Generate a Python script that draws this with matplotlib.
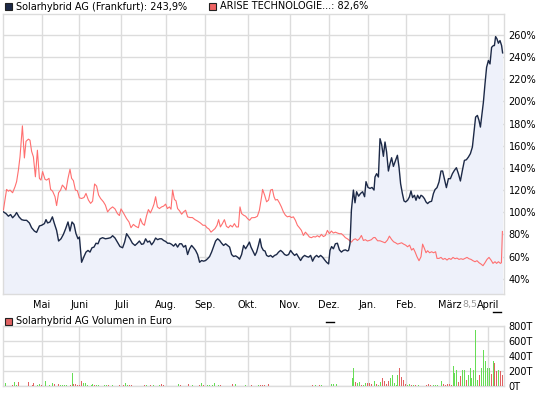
import matplotlib
matplotlib.use("Agg")
import matplotlib.pyplot as plt
from matplotlib.patches import Rectangle
from matplotlib.lines import Line2D

# ---------------- data ----------------
months = ["Mai", "Juni", "Juli", "Aug.", "Sep.", "Okt.", "Nov.", "Dez.",
          "Jan.", "Feb.", "März", "April"]
month_start = [20.85, 39.65, 60.65, 82.85, 102.65, 123.85, 144.85, 164.5,
               183.85, 203.0, 224.65, 243.85]
pct_ticks = [40, 60, 80, 100, 120, 140, 160, 180, 200, 220, 240, 260]
vol_ticks = [0, 200, 400, 600, 800]

solar_day = [1.7, 3, 4.2, 5.3, 6.3, 7.5, 8.3, 9.5, 10.8, 12, 13.3, 14.7, 15.8, 17.2, 18.3,
             19.7, 20.8, 22.2, 23, 23.8, 25, 26.2, 27.2, 28.3, 29.3, 30.5, 31.7, 32.8, 34,
             35, 36, 37, 38, 39, 39.7, 40.8, 42, 43, 44, 45, 46, 47, 48, 49, 50, 51.3, 52.7,
             54, 55.3, 56.3, 57.5, 58.7, 60, 61.3, 62.3, 63.3,
             65, 66.2, 67.5, 68.7, 69.7, 70.8, 71.8, 72.8, 73.8, 74.8, 75.8, 76.8, 77.8,
             78.8, 79.8, 80.8, 81.8, 82.8, 83.8, 84.8, 85.8, 86.8, 87.8, 88.8, 89.8, 90.8,
             91.8, 92.8, 93.8, 94.8, 95.8, 96.8, 97.8, 98.8, 99.8, 100.8, 101.8, 102.8,
             103.8, 104.8, 105.8, 106.8, 107.8, 108.8, 109.8, 110.8, 111.8, 112.8, 113.8,
             114.8, 115.8, 116.8, 117.8, 118.8, 119.8, 120.8, 121.8, 122.8, 123.8, 124.7,
             125.5,
             127.5, 128.3, 129.2, 130, 130.8, 131.7, 132.5, 133.3, 134.3, 135.3, 136.3,
             137.3, 138.3, 139.3, 140.3, 141.3, 142.3, 143.3, 144.3, 145.3, 146.3, 147.3,
             148.3, 149.3, 150.3, 151.3, 152.3, 153.3, 154.3, 155.3, 156.3, 157.3, 158.3,
             159.3, 160.3, 161.3, 162.3, 163.3, 164.3, 165, 165.8, 166.7, 167.7, 168.7,
             169.7, 170.7, 171.7, 172.7, 173.7, 174.3, 175, 175.7, 176.7, 177.5, 178.3,
             179.3, 180.3, 181.3, 182.3, 183, 184, 185, 186, 187,
             187.5, 188.3, 189.2, 190, 190.8, 191.7, 192.5, 193.3, 194.2, 195, 195.8,
             196.7, 197.5, 198.7, 199.5, 200.3, 201.2, 202, 202.8, 203.8, 204.7, 205.5,
             206.3, 207.2, 208, 208.8, 209.7, 210.5, 211.3, 212.2, 213, 213.8, 214.7,
             215.8, 216.7, 217.5, 218.5, 219.5, 220.5, 221.3, 222.2, 223.2, 224.2, 225.2,
             226.2, 227.2, 228.2, 229.2, 230.2, 231.2, 232.2, 233.2, 234.2, 235.2, 236.2,
             237, 237.8, 238.7, 239.5, 240.2, 240.8, 241.7, 242.5, 243.3, 244.2, 245,
             245.8, 246.7, 247.2, 247.8, 248.5, 249.2, 250, 250.8, 251.3]
solar_pct = [100.3, 98.8, 96.4, 97.9, 95, 97.3, 99.7, 95.8, 93.3, 92.7, 92.7, 90.3, 86, 83,
             81.8, 87.6, 88.2, 89.7, 93.3, 90.3, 91.2, 95.8, 89.7, 83.6, 74, 76, 80, 85,
             91.2, 83, 91.2, 89, 80.6, 76, 77.6, 54.8, 60, 64, 65.5, 64, 67.9, 68.5, 72,
             71.5, 76, 77, 76, 76.4, 77, 78.8, 76.7, 73, 69, 67.9, 73, 80.6,
             76, 72, 70, 72, 74, 71, 71.5, 76, 73, 74, 70.6, 73, 76.7, 75.2, 76, 76, 74.5,
             73.6, 72, 72, 71, 69.4, 71.5, 68.5, 71.5, 71.5, 68.5, 70, 61.8, 67, 70, 67.9,
             65.5, 61.8, 54.8, 56.4, 55.8, 56.4, 58, 60, 64, 69, 74, 76, 74.5, 72, 70,
             71.5, 70, 68.5, 61.8, 60, 60.6, 59.4, 57.6, 61.8, 70, 67, 70, 73, 68.5,
             61, 64, 70, 76, 68.5, 65.5, 65, 61, 60, 61, 59.4, 61, 61.8, 64, 65.5, 64,
             61.8, 61, 61.8, 65.5, 63, 61, 62.4, 59.4, 56.4, 59.4, 61, 60, 59.4, 61, 55.8,
             59.4, 61, 59.4, 61, 59.4, 57, 54.8, 53.3, 65.5, 69, 67, 71.5, 72, 66, 64,
             65.5, 66, 65, 65.5, 71.5, 101.8, 120, 108.5, 118.5, 114.5, 117, 118.5, 114,
             127.6, 122.4, 121.5, 122.4, 120,
             131.8, 134.8, 131.8, 166.4, 161.3, 150.5, 163.4, 154.4, 137.2, 143.8, 149.2,
             141.4, 145.3, 151.4, 140.8, 125.8, 116.8, 110.2, 109.3, 110.8, 113.8, 119.2,
             113.2, 115.3, 110.8, 115.3, 112.3, 115.3, 114.4, 112.3, 109.3, 107.8, 109.3,
             109.9, 116.8, 120.4, 122.2, 127.3, 137.2, 137.2, 130.3, 122.2, 130.3, 130.3,
             134.8, 137.8, 140.2, 134.8, 128.2, 137.8, 146.8, 147.4, 149.8, 152.9, 158.9,
             172.4, 185.9, 187.4, 182.9, 176.9, 185.9, 199.4, 215.9, 230.9, 237, 233.9,
             248.9, 250.5, 250.5, 258.6, 256.5, 252.6, 255, 250.5, 243.9]

arise_day = [1.7, 3.3, 4.2, 5, 6.3, 7.5, 8.3, 9.2, 10, 11.2, 12.2, 13, 14.2, 15, 15.8, 16.7,
             17.7, 18.7, 19.7, 20.5, 21.3, 22.5, 23.3, 24.5, 25.3, 26.3, 27.5, 28.3, 29.3,
             30.3, 31.2, 32.2, 33, 34, 35, 35.8, 36.7, 37.7, 38.7, 39.7, 40.8, 42, 43, 44.2,
             45.3, 46.3, 47.3, 48.3, 49.3, 50.3, 51.7, 52.7, 53.8, 55, 56.3, 57.5, 58.7,
             59.7, 60.5, 61.7,
             63.3, 64.5, 65.5, 66.7, 67.8, 69.2, 70.2, 71.2, 72.2, 73.2, 74.2, 75.2, 76.2,
             77, 77.8, 78.7, 79.7, 80.8, 81.8, 82.8, 83.7, 84.7, 85.5, 86.3, 87.2, 88,
             88.8, 89.8, 90.8, 91.8, 92.8, 93.8, 95, 96.2, 97.5, 98.8, 100.2, 101.5, 102.5,
             103.5, 104.5, 105.5, 106.5, 107.5, 108.5, 109.3, 110.2, 111.2, 112.2, 113.2,
             114.2, 115.2, 116.2, 117.2, 118.2, 119.2, 120, 120.8, 121.8, 122.8, 123.8,
             124.8,
             125.8, 127.5, 128.7, 129.7, 130.8, 131.3, 132.3, 133.3, 134.3, 135.3, 136.2,
             137, 137.7, 138.7, 139.7, 140.7, 141.7, 142.7, 143.7, 144.7, 145.7, 146.7,
             147.7, 148.7, 149.7, 150.7, 151.7, 152.7, 153.7, 154.7, 155.7, 156.7, 157.7,
             158.7, 159.7, 160.7, 161.7, 162.7, 163.7, 164.7, 165.7, 166.7, 167.7, 168.7,
             169.7, 170.7, 171.7, 172.7, 173.7, 174.7, 175.7, 176.7, 177.7, 178.7, 179.7,
             180.7, 181.7, 182.7, 183.7, 184.7, 185.7, 186.7,
             187.5, 188.8, 190, 191.2, 192.5, 193.7, 194.7, 195.8, 196.8, 197.8, 198.8,
             199.8, 200.8, 201.8, 202.8, 203.8, 204.8, 205.8, 206.7, 207.5, 208.5, 209.5,
             210.5, 211.3, 212.2, 213, 213.8, 214.8, 215.8, 216.8, 217.8, 218.5, 219.5,
             220.5, 221.5, 222.5, 223.5, 224.5, 225.5, 226.5, 227.5, 228.5, 229.5, 230.5,
             231.5, 232.5, 233.5, 234.5, 235.5, 236.5, 237.5, 238.5, 239.5, 240.5, 241.5,
             242.5, 243.5, 244.5, 245.5, 246.5, 247.5, 248.3, 249.2, 250.2, 250.7, 251.2]
arise_pct = [102, 120.6, 119, 120, 117.6, 123, 127.6, 138, 150, 178, 149, 164, 166, 165, 155,
             150, 132, 156, 130.6, 129, 136.7, 129.7, 129, 130.6, 120.6, 119, 114, 106,
             117.6, 120, 124.5, 122.4, 120, 130.6, 138.8, 130.6, 128.5, 120, 119.4, 113,
             112.4, 113.3, 117, 111, 108, 110, 125.5, 123.6, 115.5, 112.4, 109.4, 106.4,
             100.3, 103, 104.8, 103, 98.8, 97, 103, 99.4,
             94.2, 91.2, 86, 89, 87.3, 86, 94.2, 89.7, 88.2, 96.4, 102.4, 99.4, 103.3,
             107.3, 114, 104.8, 103.3, 104.8, 105.5, 107.3, 103.3, 104.8, 102.7, 120,
             111.5, 110.3, 103.3, 101.2, 98.2, 100.3, 101.8, 95.8, 95.2, 95.2, 93.3, 92,
             90.3, 88.2, 88.2, 86, 84.8, 82, 83.6, 85.2, 88.2, 93.3, 86.7, 89.7, 93.3,
             87.3, 86, 88.2, 86.7, 89.7, 86.7, 86.7, 104.8, 98.8, 97.3, 96.4, 94.2, 92.7,
             95, 95.2, 96.4, 101.8, 114, 120.6, 115.5, 109.4, 111, 120, 120.6, 114, 111,
             111.5, 108.5, 104.8, 100.3, 97.3, 95.8, 96.4, 95.2, 95.8, 92.7, 88.2, 86,
             83.6, 79, 82, 80, 77.6, 77, 78, 77.6, 78.8, 77.6, 80, 78, 79, 83.6, 80.6, 83,
             81.2, 82, 81.2, 80.6, 80.6, 79, 77, 76, 74.5, 73, 75.2, 76, 74.5, 76, 79,
             74.5, 75.2, 74, 74.5, 75.2, 77,
             77.2, 74.2, 74.2, 73.3, 72.4, 74.8, 78.4, 75.4, 73.3, 72.4, 71.2, 71.8, 72.4,
             71.2, 70.3, 68.8, 70.3, 65.8, 67.3, 64.3, 59.8, 56.2, 59.8, 71.2, 67.3, 63.4,
             65.2, 63.4, 64.3, 63.4, 64.3, 58.3, 58.3, 59.2, 57.4, 58.3, 56.8, 58.3, 57.4,
             59.2, 58, 58.6, 57.4, 58, 57.4, 58.3, 59.2, 58, 57.4, 56.2, 55.3, 56.2, 54.4,
             53.2, 51.7, 54.4, 57.4, 59.2, 56.8, 53.8, 55.3, 53.8, 55.3, 53.8, 54.4, 82.6]

# volume (thousand euro); vol_up: True = green (up day), False = red (down day)
vol_day = [2.7, 6.2, 7.2, 8.2, 9.2, 14.2, 16.2, 16.7, 18.7, 19.7,
           20.7, 22.7, 24.7, 26.2, 27.2, 29.2, 30.2, 31.2, 32.2, 33.2,
           35.2, 36.2, 36.7, 37.7, 38.7, 39.7, 40.7, 41.7, 42.7, 43.7,
           45.7, 46.2, 47.2, 48.2, 49.2, 52.2, 53.2, 54.2, 56.2, 59.7,
           61.7, 62.7, 63.7, 64.7, 65.7, 72.2, 73.2, 75.2, 76.7, 79.7,
           80.7, 81.7, 89.2, 90.2, 94.2, 96.2, 99.7, 100.7, 101.7, 103.7,
           104.7, 106.2, 107.2, 109.2, 110.2, 116.2, 117.7, 122.7, 125.7, 129.2,
           130.2, 131.2, 132.2, 134.2, 156.2, 157.7, 159.7, 160.7, 165.7, 166.7,
           168.2, 176.2, 176.7, 177.7, 178.7, 179.7, 180.7, 181.7, 182.7, 183.7,
           184.7, 185.7, 187.2, 188.2, 189.2, 190.2, 191.2, 192.2, 193.2, 194.2,
           195.2, 196.2, 197.2, 198.2, 198.7, 199.7, 200.7, 201.7, 202.7, 203.7,
           204.7, 205.7, 206.7, 207.7, 209.2, 213.2, 214.2, 215.2, 216.7, 217.7,
           218.7, 220.7, 221.7, 222.7, 223.7, 224.7, 225.7, 226.7, 227.2, 228.2,
           229.2, 230.2, 231.2, 232.2, 233.2, 234.2, 235.2, 235.7, 236.7, 237.7,
           238.7, 239.7, 240.7, 241.7, 242.7, 243.7, 244.7, 245.7, 246.7, 247.2,
           248.2, 249.2, 250.2, 251.2]
vol_t = [44, 18, 58, 18, 58, 58, 18, 44, 18, 31,
         18, 71, 18, 44, 31, 31, 18, 18, 18, 18,
         18, 178, 31, 31, 18, 18, 71, 44, 44, 18,
         18, 31, 18, 18, 18, 18, 18, 18, 18, 18,
         18, 44, 18, 18, 18, 18, 18, 18, 18, 18,
         31, 18, 31, 18, 31, 18, 18, 44, 18, 18,
         18, 18, 44, 18, 18, 31, 31, 18, 18, 18,
         18, 18, 18, 31, 18, 18, 18, 18, 31, 31,
         31, 111, 244, 58, 44, 58, 18, 18, 44, 44,
         44, 31, 71, 31, 18, 58, 115, 71, 31, 71,
         111, 151, 44, 18, 151, 249, 129, 89, 31, 18,
         31, 18, 18, 18, 18, 18, 31, 18, 18, 18,
         18, 71, 31, 18, 31, 31, 18, 266, 173, 213,
         53, 138, 222, 222, 89, 151, 249, 115, 218, 750,
         84, 151, 240, 484, 342, 240, 240, 160, 338, 306,
         204, 222, 204, 151]
G, R = True, False
vol_up = [G, R, G, G, R, R, R, R, G, G,
          R, G, G, G, R, R, G, G, G, G,
          R, G, R, R, R, R, R, G, G, G,
          G, G, R, G, G, G, G, R, G, R,
          R, G, G, R, R, R, G, R, G, G,
          R, R, G, R, R, G, R, G, R, G,
          G, G, G, G, R, R, G, G, R, G,
          R, R, R, R, R, G, R, G, G, G,
          G, G, G, R, G, G, R, G, G, R,
          R, R, G, R, G, G, R, R, R, R,
          G, G, G, G, G, R, R, R, R, G,
          G, R, G, R, G, R, R, R, G, G,
          G, G, R, R, R, R, R, G, G, G,
          R, R, G, G, R, G, G, G, G, G,
          G, R, G, G, G, G, G, R, G, R,
          R, G, R, R]

# ---------------- style ----------------
NAVY = "#1c2947"
FILL = "#eef1fa"
RED = "#ff6f6f"
GRID = "#dcdcdc"
GREEN_BAR = "#66dd55"
RED_BAR = "#e06262"
FONT = "DejaVu Sans"
FS = 7

plt.rcParams["font.family"] = FONT

W, H = 545, 395
fig = plt.figure(figsize=(W / 100, H / 100), dpi=100)
fig.patch.set_facecolor("white")


def fx(px):
    return px / W


def fy(py):
    return 1 - py / H


ax = fig.add_axes([fx(2.7), fy(293.5), fx(504.3) - fx(2.7), fy(14) - fy(293.5)])
axv = fig.add_axes([fx(2.7), fy(386.3), fx(504.3) - fx(2.7), fy(326.3) - fy(386.3)])

x_lo, x_hi = 1.35, 252.15
y_lo, y_hi = 26.6, 279.0

# main price chart
ax.fill_between(solar_day, solar_pct, y_lo - 5, color=FILL, lw=0, zorder=1)
ax.plot(arise_day, arise_pct, color=RED, lw=0.8, zorder=3)
ax.plot(solar_day, solar_pct, color=NAVY, lw=1.0, zorder=4)
ax.set_xlim(x_lo, x_hi)
ax.set_ylim(y_lo, y_hi)
ax.set_xticks(month_start)
ax.set_xticklabels(months, fontsize=FS)
ax.set_yticks(pct_ticks)
ax.set_yticklabels([f"{t}%" for t in pct_ticks], fontsize=FS)
ax.yaxis.tick_right()
ax.tick_params(axis="both", length=0)
ax.tick_params(axis="x", pad=5)
ax.tick_params(axis="y", pad=3)
ax.grid(True, color=GRID, lw=1.0, zorder=0)
ax.set_axisbelow(True)
for s in ax.spines.values():
    s.set_color(GRID)
    s.set_linewidth(1.0)

# volume chart
bar_colors = [GREEN_BAR if up else RED_BAR for up in vol_up]
axv.bar(vol_day, vol_t, width=0.7, color=bar_colors, lw=0, zorder=3)
axv.set_xlim(x_lo, x_hi)
axv.set_ylim(0, 800)
axv.set_xticks(month_start)
axv.set_xticklabels([])
axv.set_yticks(vol_ticks)
axv.set_yticklabels([f"{t}T" for t in vol_ticks], fontsize=FS)
axv.yaxis.tick_right()
axv.tick_params(axis="both", length=0)
axv.tick_params(axis="y", pad=3)
axv.grid(True, color=GRID, lw=1.0, zorder=0)
axv.set_axisbelow(True)
for s in axv.spines.values():
    s.set_color(GRID)
    s.set_linewidth(1.0)


# legends
def legend_box(px, py, color):
    fig.add_artist(Rectangle((fx(px), fy(py + 7)), fx(7), 7 / H, transform=fig.transFigure,
                             facecolor=color, edgecolor="#222222", lw=0.8))


solar_last = f"{solar_pct[-1]:.1f}".replace(".", ",")
arise_last = f"{arise_pct[-1]:.1f}".replace(".", ",")
legend_box(4.5, 2.8, NAVY)
fig.text(fx(15.5), fy(6.5), f"Solarhybrid AG (Frankfurt): {solar_last}%", fontsize=FS,
         va="center", ha="left")
legend_box(208.5, 2.8, "#f06464")
fig.text(fx(219.5), fy(6.5), f"ARISE TECHNOLOGIE...: {arise_last}%", fontsize=FS,
         va="center", ha="left")
legend_box(4.5, 317.8, "#e06262")
fig.text(fx(15.5), fy(321.5), "Solarhybrid AG Volumen in Euro", fontsize=FS,
         va="center", ha="left")

# small artefacts of the original (grey price remnant and two dashes)
fig.text(fx(462), fy(304.5), "8,5", fontsize=6.8, color="#9a9a9a", va="center", ha="left")
fig.add_artist(Line2D([fx(493), fx(501)], [fy(312.3), fy(312.3)], transform=fig.transFigure,
                      color="black", lw=1))
fig.add_artist(Line2D([fx(326), fx(334)], [fy(322.3), fy(322.3)], transform=fig.transFigure,
                      color="black", lw=1))

fig.savefig("out.png", dpi=100, facecolor="white")
